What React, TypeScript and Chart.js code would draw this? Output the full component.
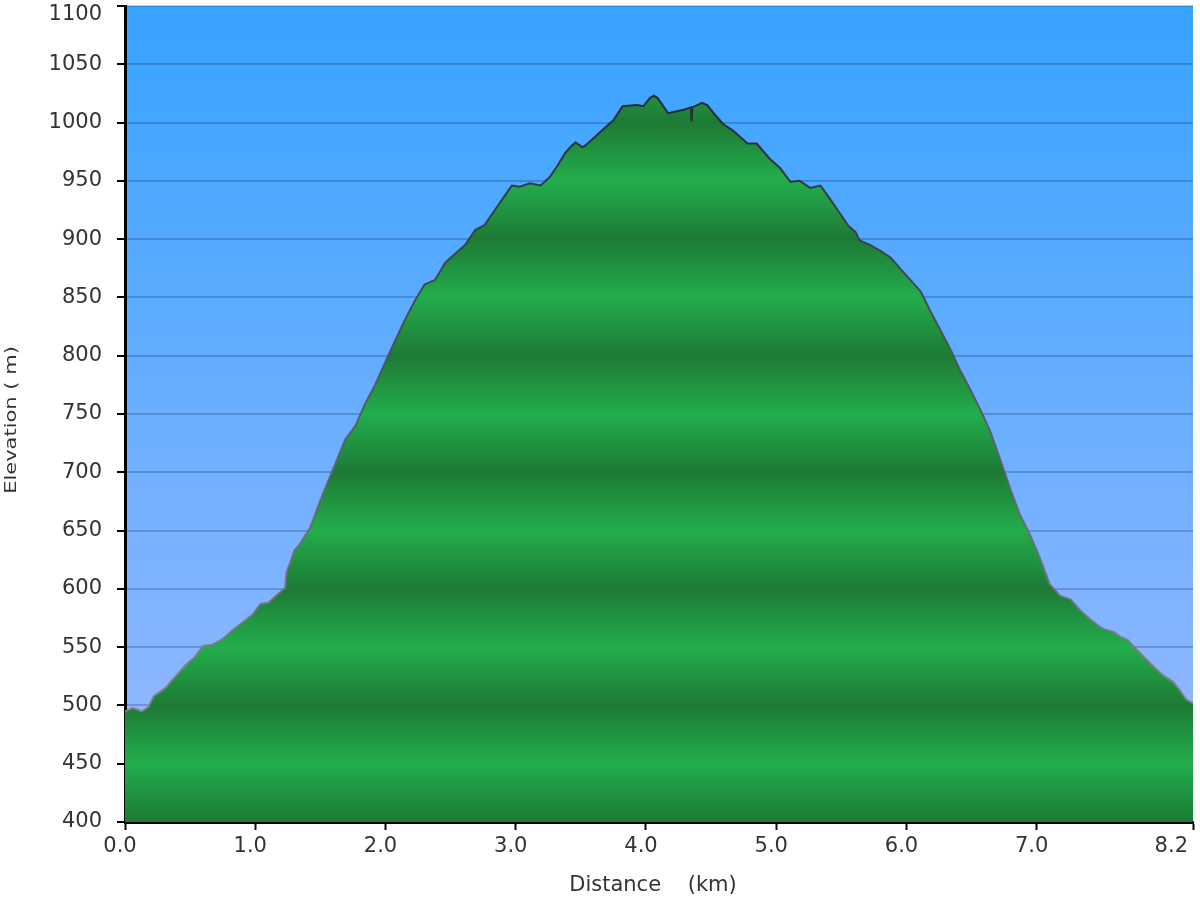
import { useEffect, useRef } from 'react';
import { Chart, registerables } from 'chart.js';

Chart.register(...registerables);

// Distance along the route (km)
const distanceKm = [
  0.0, 0.06, 0.13, 0.18, 0.22, 0.31, 0.38, 0.46, 0.54, 0.6, 0.67, 0.75, 0.82, 0.9, 0.98,
  1.04, 1.1, 1.15, 1.21, 1.23, 1.24, 1.27, 1.3, 1.34, 1.42, 1.5, 1.54, 1.61, 1.69, 1.77,
  1.84, 1.92, 2.0, 2.07, 2.15, 2.23, 2.3, 2.38, 2.46, 2.53, 2.61, 2.69, 2.76, 2.84, 2.92,
  2.97, 3.03, 3.11, 3.19, 3.26, 3.32, 3.38, 3.42, 3.46, 3.51, 3.53, 3.59, 3.67, 3.75, 3.82,
  3.93, 3.98, 4.03, 4.06, 4.09, 4.17, 4.21, 4.29, 4.345, 4.35, 4.355, 4.43, 4.47, 4.52, 4.59,
  4.67, 4.78, 4.85, 4.95, 5.03, 5.11, 5.18, 5.26, 5.34, 5.41, 5.49, 5.55, 5.61, 5.64, 5.72,
  5.8, 5.88, 5.95, 6.03, 6.11, 6.18, 6.26, 6.34, 6.41, 6.49, 6.57, 6.64, 6.72, 6.8, 6.87,
  6.95, 7.03, 7.1, 7.18, 7.26, 7.33, 7.41, 7.49, 7.53, 7.59, 7.64, 7.7, 7.74, 7.82, 7.9,
  7.97, 8.05, 8.1, 8.15, 8.2,
];

// Elevation (m)
const elevationM = [
  495, 498, 495, 499, 508, 515, 524, 534, 542, 551, 552, 557, 564, 571, 578,
  587, 588, 593, 599, 601, 614, 623, 633, 638, 652, 676, 687, 706, 728, 740,
  758, 775, 795, 812, 831, 848, 861, 865, 880, 887, 895, 908, 912, 925, 938,
  946, 945, 948, 946, 953, 963, 974, 979, 983, 979, 980, 986, 994, 1002, 1014,
  1015, 1014, 1021, 1023, 1021, 1008, 1009, 1011, 1013, 1001, 1013, 1017, 1015, 1008, 999,
  993, 982, 982, 969, 961, 949, 950, 944, 946, 935, 922, 912, 906, 899, 895,
  890, 884, 875, 865, 855, 839, 822, 805, 788, 771, 753, 736, 711, 685, 664,
  646, 625, 604, 594, 591, 582, 574, 567, 565, 563, 559, 556, 551, 542, 533,
  526, 520, 513, 505, 502,
];

const xTickValues = [0, 1, 2, 3, 4, 5, 6, 7, 8.2];
const yMin = 400;
const yMax = 1100;
const yStep = 50;
const xTitle = 'Distance    (km)';
const yTitle = 'Elevation ( m)';

const FONT = '"DejaVu Sans", Verdana, sans-serif';
const TEXT = '#333333';
const GREEN_DARK = '#1d7a35';
const GREEN_LIGHT = '#23ad4c';
const SKY_TOP = '#37a3ff';
const SKY_BOTTOM = '#9cbaff';

export default function App() {
  const ref = useRef<HTMLCanvasElement>(null);

  useEffect(() => {
    document.body.style.margin = '0';
    const canvas = ref.current;
    if (!canvas) return;

    const bandFill = (c: any) => {
      const chart = c.chart;
      const { chartArea, scales } = chart;
      if (!chartArea || !scales.y) return GREEN_LIGHT;
      const ys = scales.y;
      const top = ys.getPixelForValue(yMax);
      const bot = ys.getPixelForValue(yMin);
      const g = chart.ctx.createLinearGradient(0, bot, 0, top);
      const n = (yMax - yMin) / yStep;
      for (let i = 0; i <= n; i++) {
        const v = yMin + i * yStep;
        g.addColorStop(i / n, v % 100 === 0 ? GREEN_DARK : GREEN_LIGHT);
      }
      return g;
    };

    const lineStroke = (c: any) => {
      const chart = c.chart;
      const { chartArea } = chart;
      if (!chartArea) return '#444';
      const g = chart.ctx.createLinearGradient(0, chartArea.top, 0, chartArea.bottom);
      g.addColorStop(0, 'rgba(20,20,35,0.95)');
      g.addColorStop(0.45, 'rgba(80,80,95,0.9)');
      g.addColorStop(1, 'rgba(150,150,160,0.9)');
      return g;
    };

    const skyPlugin = {
      id: 'sky',
      beforeDraw(chart: any) {
        const { ctx, chartArea } = chart;
        if (!chartArea) return;
        const g = ctx.createLinearGradient(0, chartArea.top, 0, chartArea.bottom);
        g.addColorStop(0, SKY_TOP);
        g.addColorStop(1, SKY_BOTTOM);
        ctx.save();
        ctx.fillStyle = g;
        ctx.fillRect(chartArea.left, chartArea.top, chartArea.right - chartArea.left, chartArea.bottom - chartArea.top);
        ctx.restore();
      },
    };

    const titlesPlugin = {
      id: 'titles',
      afterDraw(chart: any) {
        const { ctx, chartArea } = chart;
        ctx.save();
        ctx.fillStyle = TEXT;
        ctx.font = `21px ${FONT}`;
        ctx.textAlign = 'center';
        ctx.textBaseline = 'alphabetic';
        ctx.fillText(xTitle, (chartArea.left + chartArea.right) / 2 - 6, 891);
        ctx.restore();

        ctx.save();
        ctx.fillStyle = TEXT;
        ctx.font = `21px ${FONT}`;
        ctx.translate(12, (chartArea.top + chartArea.bottom) / 2 + 6);
        ctx.rotate(-Math.PI / 2);
        ctx.scale(1, 0.72);
        ctx.textAlign = 'center';
        ctx.textBaseline = 'middle';
        ctx.fillText(yTitle, 0, 0);
        ctx.restore();
      },
    };

    const chart = new Chart(canvas, {
      type: 'line',
      data: {
        datasets: [
          {
            data: distanceKm.map((d, i) => ({ x: d, y: elevationM[i] })),
            borderColor: lineStroke,
            borderWidth: 2,
            backgroundColor: bandFill,
            fill: 'start',
            pointRadius: 0,
            tension: 0,
          },
        ],
      },
      options: {
        animation: false,
        responsive: false,
        maintainAspectRatio: false,
        layout: { padding: { left: 0, right: 7, top: 6, bottom: 0 } },
        plugins: {
          legend: { display: false },
          tooltip: { enabled: false },
        },
        scales: {
          x: {
            type: 'linear',
            min: 0,
            max: 8.2,
            z: 1,
            afterBuildTicks: (s: any) => {
              s.ticks = xTickValues.map((v) => ({ value: v }));
            },
            afterFit: (s: any) => {
              s.height = 78;
              s.paddingLeft = 0;
              s.paddingRight = 0;
            },
            border: { display: true, color: '#000', width: 3 },
            grid: {
              display: true,
              drawOnChartArea: false,
              drawTicks: true,
              tickLength: 8,
              tickColor: '#000',
              tickWidth: 2,
            },
            ticks: {
              autoSkip: false,
              maxRotation: 0,
              padding: 4,
              labelOffset: -5,
              color: TEXT,
              font: { family: FONT, size: 21 },
              callback: (v: any) => {
                const n = Number(v);
                return n === 8.2 ? n.toFixed(1) + '     ' : n.toFixed(1);
              },
            },
          },
          y: {
            type: 'linear',
            min: yMin,
            max: yMax,
            z: 1,
            afterFit: (s: any) => {
              s.width = 125;
              s.paddingTop = 0;
              s.paddingBottom = 0;
            },
            border: { display: true, color: '#000', width: 3 },
            grid: {
              display: true,
              drawOnChartArea: true,
              drawTicks: true,
              tickLength: 8,
              color: 'rgba(0,10,40,0.2)',
              lineWidth: 2,
              tickColor: '#000',
              tickWidth: 2,
            },
            ticks: {
              stepSize: yStep,
              padding: 15,
              color: TEXT,
              font: { family: FONT, size: 21, lineHeight: 0.85 },
              callback: (v: any) => (Number(v) === yMax ? ['', String(v)] : String(v)),
            },
          },
        },
      },
      plugins: [skyPlugin, titlesPlugin],
    });

    return () => chart.destroy();
  }, []);

  return (
    <div style={{ position: 'absolute', left: 0, top: 0, width: 1200, height: 900 }}>
      <canvas ref={ref} width={1200} height={900} />
    </div>
  );
}
